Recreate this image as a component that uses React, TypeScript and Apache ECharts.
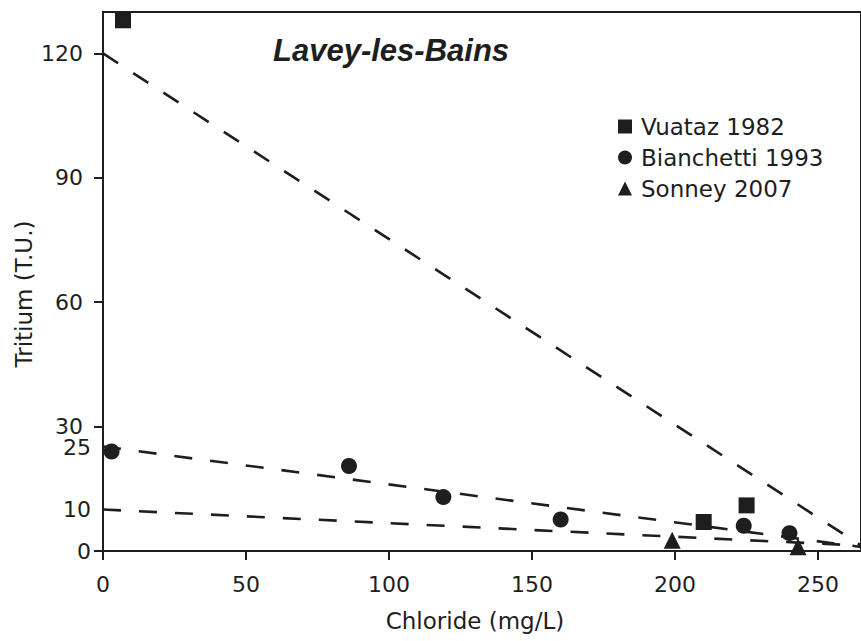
import React, { useEffect, useRef } from "react";
import * as echarts from "echarts";

// Scatter data (Chloride mg/L, Tritium T.U.)
const vuatazX = [7, 210, 225];
const vuatazY = [128, 7, 11];
const bianchettiX = [3, 86, 119, 160, 224, 240];
const bianchettiY = [24, 20.5, 13, 7.6, 6.1, 4.3];
const sonneyX = [199, 243];
const sonneyY = [2.6, 1.0];

// Dashed trend lines: [x, y] end points
const vuatazLineX = [0, 268];
const vuatazLineY = [120, 0];
const bianchettiLineX = [0, 268];
const bianchettiLineY = [25.2, 0.7];
const sonneyLineX = [0, 268];
const sonneyLineY = [10, 1.2];

const xTicks = [0, 50, 100, 150, 200, 250];
const yTicks = [0, 30, 60, 90, 120];
const yTickedLabels = [30, 60, 90, 120];
const yExtraLabels = [0, 10];
const yShiftedLabels = [25];

const seriesNames = ["Vuataz 1982", "Bianchetti 1993", "Sonney 2007"];
const titleText = "Lavey-les-Bains";
const xName = "Chloride (mg/L)";
const yName = "Tritium (T.U.)";

const zip = (xs: number[], ys: number[]) => xs.map((x, i) => [x, ys[i]]);

const INK = "#1e1e1e";
const FONT = "DejaVu Sans";

export default function App() {
  const ref = useRef<HTMLDivElement>(null);
  useEffect(() => {
    if (!ref.current) return;
    const chart = echarts.init(ref.current, undefined, { renderer: "svg" });
    const dashed = (name: string, xs: number[], ys: number[]) => ({
      type: "line",
      name,
      data: zip(xs, ys),
      symbol: "none",
      silent: true,
      z: 2,
      lineStyle: { color: INK, width: 2.6, type: [18, 18] },
    });
    const scatter = (name: string, xs: number[], ys: number[], symbol: string, size: number) => ({
      type: "scatter",
      name,
      data: zip(xs, ys),
      symbol,
      symbolSize: size,
      z: 5,
      itemStyle: { color: INK, opacity: 1 },
    });
    const labelStyle = {
      fontSize: 22,
      fontFamily: FONT,
      color: INK,
      lineHeight: 18,
    };
    const bareAxis = {
      type: "value",
      position: "left",
      min: 0,
      max: 130,
      interval: 10,
      splitLine: { show: false },
      axisLine: { show: false },
      axisTick: { show: false },
    };
    chart.setOption({
      animation: false,
      backgroundColor: "#fff",
      grid: {
        left: 103,
        top: 12,
        bottom: 90,
        right: -7,
        show: true,
        borderColor: INK,
        borderWidth: 2,
        backgroundColor: "transparent",
      },
      xAxis: {
        type: "value",
        min: 0,
        max: 265,
        interval: 50,
        splitLine: { show: false },
        axisLine: { lineStyle: { color: INK, width: 2 } },
        axisTick: {
          show: true,
          length: 9,
          inside: false,
          customValues: xTicks,
          lineStyle: { color: INK, width: 2 },
        },
        axisLabel: {
          customValues: xTicks,
          margin: 22,
          fontSize: 22,
          fontFamily: FONT,
          color: INK,
        },
      },
      yAxis: [
        {
          type: "value",
          min: 0,
          max: 130,
          interval: 10,
          splitLine: { show: false },
          axisLine: { lineStyle: { color: INK, width: 2 } },
          axisTick: {
            show: true,
            length: 9,
            inside: false,
            customValues: yTicks,
            lineStyle: { color: INK, width: 2 },
          },
          axisLabel: { customValues: yTickedLabels, margin: 20, ...labelStyle },
        },
        {
          ...bareAxis,
          axisLabel: { customValues: yExtraLabels, margin: 12, ...labelStyle },
        },
        {
          ...bareAxis,
          axisLabel: { customValues: yShiftedLabels, margin: 12, padding: [6, 0, 0, 0], ...labelStyle },
        },
      ],
      legend: {
        data: seriesNames,
        orient: "vertical",
        left: 618,
        top: 115,
        padding: 0,
        itemWidth: 14,
        itemHeight: 14,
        itemGap: 8,
        itemStyle: { opacity: 1 },
        textStyle: { fontSize: 23, fontFamily: FONT, color: INK, padding: [0, 0, 0, 4] },
      },
      graphic: [
        {
          type: "text",
          x: 273,
          y: 50,
          style: {
            text: titleText,
            font: "italic bold 31px 'Liberation Sans', Arial, sans-serif",
            fill: INK,
            align: "left",
            verticalAlign: "middle",
          },
        },
        {
          type: "text",
          x: 475,
          y: 621,
          style: {
            text: xName,
            font: `23px '${FONT}'`,
            fill: INK,
            align: "center",
            verticalAlign: "middle",
          },
        },
        {
          type: "text",
          x: 24,
          y: 294,
          rotation: Math.PI / 2,
          style: {
            text: yName,
            font: `23px '${FONT}'`,
            fill: INK,
            align: "center",
            verticalAlign: "middle",
          },
        },
      ],
      series: [
        dashed("vuatazLine", vuatazLineX, vuatazLineY),
        dashed("bianchettiLine", bianchettiLineX, bianchettiLineY),
        dashed("sonneyLine", sonneyLineX, sonneyLineY),
        scatter(seriesNames[0], vuatazX, vuatazY, "rect", 16),
        scatter(seriesNames[1], bianchettiX, bianchettiY, "circle", 16),
        scatter(seriesNames[2], sonneyX, sonneyY, "triangle", 17),
      ],
    });
    return () => chart.dispose();
  }, []);
  return (
    <div
      ref={ref}
      style={{ position: "fixed", left: 0, top: 0, width: 861, height: 641, background: "#fff" }}
    />
  );
}
